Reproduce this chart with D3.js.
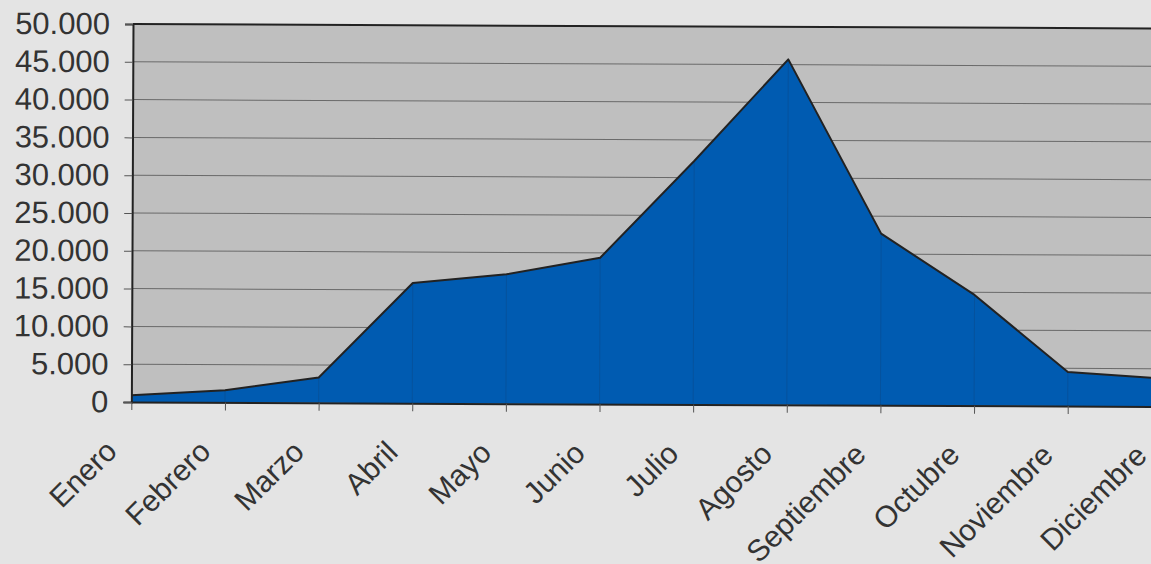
<!DOCTYPE html>
<html>
<head>
<meta charset="utf-8">
<script src="https://cdn.jsdelivr.net/npm/d3@7"></script>
<style>
  html, body { margin: 0; padding: 0; background: #e4e4e4; overflow: hidden; }
  svg { display: block; }
  text { font-family: "Liberation Sans", Arial, sans-serif; fill: #333; }
</style>
</head>
<body>
<svg id="chart" width="1151" height="564"></svg>
<script>
const months = ["Enero", "Febrero", "Marzo", "Abril", "Mayo", "Junio", "Julio", "Agosto", "Septiembre", "Octubre", "Noviembre", "Diciembre"];
const values = [900, 1600, 3350, 15900, 17100, 19350, 32200, 45700, 22700, 14650, 4500, 3700];
const yTicks = [0, 5000, 10000, 15000, 20000, 25000, 30000, 35000, 40000, 45000, 50000];

const svg = d3.select("#chart");
const plot = { left: 133, top: 24, right: 1163, bottom: 402 };

const g = svg.append("g").attr("transform", "rotate(0.25," + plot.left + "," + plot.top + ")");

const x = d3.scalePoint().domain(months).range([plot.left, plot.right]);
const y = d3.scaleLinear().domain([0, 50000]).range([plot.bottom, plot.top]);

const locale = d3.formatLocale({ decimal: ",", thousands: ".", grouping: [3], currency: ["", ""] });
const fmt = locale.format(",");

// plot background
g.append("rect")
  .attr("x", plot.left).attr("y", plot.top)
  .attr("width", plot.right - plot.left).attr("height", plot.bottom - plot.top)
  .attr("fill", "#bfbfbf");

// gridlines
g.append("g").selectAll("line").data(yTicks.filter(d => d > 0 && d < 50000)).join("line")
  .attr("x1", plot.left).attr("x2", plot.right)
  .attr("y1", d => y(d)).attr("y2", d => y(d))
  .attr("stroke", "#555").attr("stroke-width", 1).attr("stroke-opacity", 0.8);

// area
const data = months.map((m, i) => ({ m, v: values[i] }));
const area = d3.area().x(d => x(d.m)).y0(y(0)).y1(d => y(d.v));
const line = d3.line().x(d => x(d.m)).y(d => y(d.v));

g.append("path").datum(data).attr("d", area).attr("fill", "#005bb1");

// faint drop lines
g.append("g").selectAll("line").data(data.slice(1, -1)).join("line")
  .attr("x1", d => x(d.m)).attr("x2", d => x(d.m))
  .attr("y1", d => y(d.v)).attr("y2", y(0))
  .attr("stroke", "#0a4a8a").attr("stroke-width", 1).attr("stroke-opacity", 0.5);

g.append("path").datum(data).attr("d", line)
  .attr("fill", "none").attr("stroke", "#222").attr("stroke-width", 2).attr("stroke-linejoin", "round");

// frame top
g.append("line")
  .attr("x1", plot.left).attr("x2", plot.right)
  .attr("y1", plot.top).attr("y2", plot.top)
  .attr("stroke", "#222").attr("stroke-width", 2);

// y axis
const yAxis = g.append("g")
  .attr("transform", "translate(" + plot.left + ",0)")
  .call(d3.axisLeft(y).tickValues(yTicks).tickFormat(fmt).tickSize(8).tickPadding(15));
yAxis.select(".domain").attr("stroke", "#222").attr("stroke-width", 2);
yAxis.selectAll(".tick line").attr("stroke", "#555");
yAxis.selectAll(".tick text").attr("font-size", "31px").attr("fill", "#333");

// x axis
const xAxis = g.append("g")
  .attr("transform", "translate(0," + plot.bottom + ")")
  .call(d3.axisBottom(x).tickSize(8).tickSizeOuter(0));
xAxis.select(".domain").attr("stroke", "#222").attr("stroke-width", 2);
xAxis.selectAll(".tick line").attr("stroke", "#555");
xAxis.selectAll(".tick text")
  .attr("font-size", "30px").attr("fill", "#333")
  .attr("x", 0).attr("y", 0).attr("dy", 0)
  .attr("text-anchor", "end")
  .attr("transform", "translate(-13,51) rotate(-45)");
</script>
</body>
</html>
